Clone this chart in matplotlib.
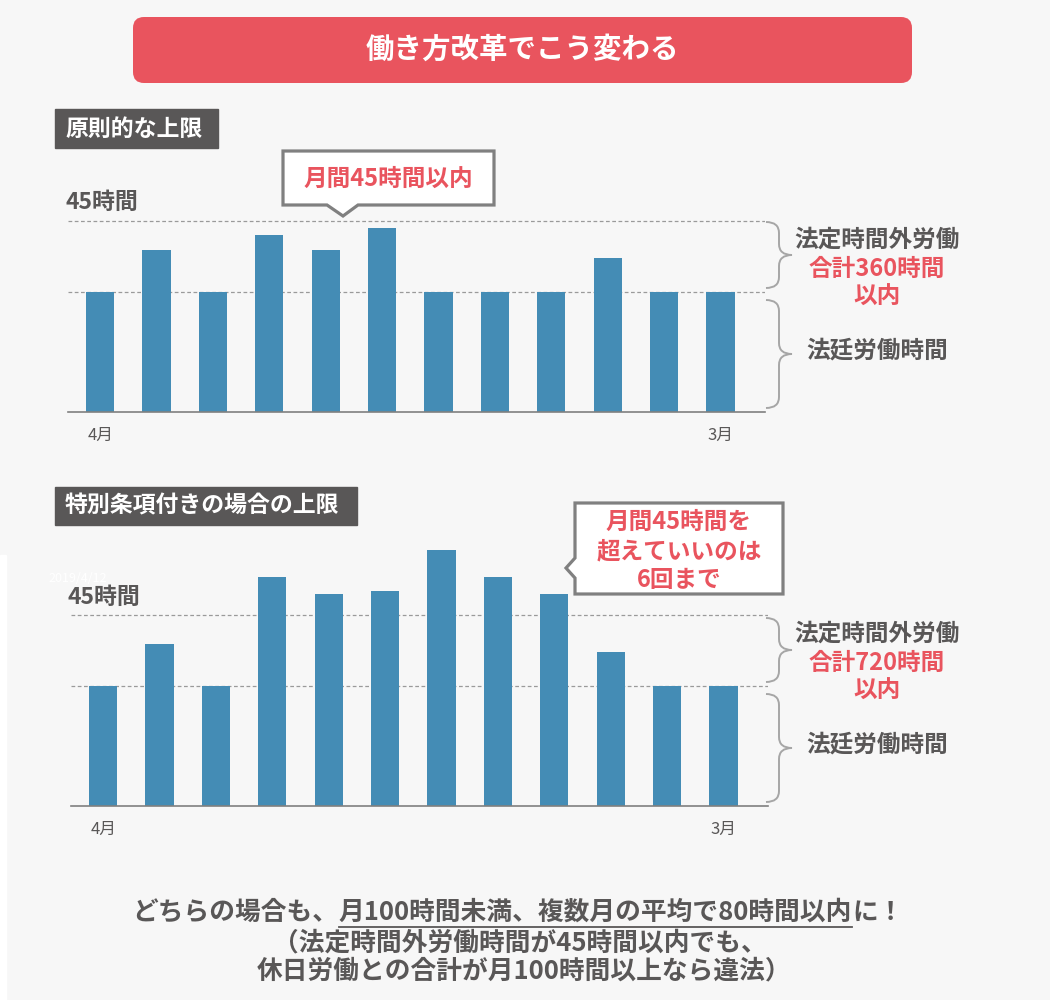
import matplotlib
matplotlib.use("Agg")
import matplotlib.pyplot as plt
from matplotlib.patches import FancyBboxPatch, Polygon, Rectangle, PathPatch
from matplotlib.path import Path

plt.rcParams['font.family'] = ['Noto Sans CJK JP', 'DejaVu Sans']

# donnees (hauteurs schematiques des barres, 12 mois d'avril a mars)
mois = list(range(12))
positions_etiquettes = [0, 11]
etiquettes_mois = ['4月', '3月']
niveau_legal = 120      # temps de travail legal
niveau_45h = 191        # limite 45 heures / mois
heures_principe = [120, 162, 120, 177, 162, 184, 120, 120, 120, 154, 120, 120]
heures_special = [120, 162, 120, 229, 212, 215, 256, 229, 212, 154, 120, 120]

FOND = '#f7f7f7'
BLEU = '#448cb5'
ROUGE = '#e9545e'
GRIS = '#595757'
GRIS_BORD = '#808080'

fig = plt.figure(figsize=(10.5, 10), dpi=100, facecolor=FOND)


def tracer_barres(gauche, bas, valeurs, hauteur):
    # gauche / bas / hauteur en pixels (bas compte depuis le haut de l'image)
    ax = fig.add_axes([gauche / 1050, 1 - bas / 1000, 697 / 1050, hauteur / 1000])
    ax.patch.set_alpha(0)
    ax.bar(mois, valeurs, width=0.5, color=BLEU, zorder=2)
    ax.axhline(niveau_legal, ls=(0, (3, 2)), color='#9a9a9a', lw=0.9, zorder=1)
    ax.axhline(niveau_45h, ls=(0, (3, 2)), color='#9a9a9a', lw=0.9, zorder=1)
    ax.set_xlim(-0.57, 11.79)
    ax.set_ylim(0, hauteur)
    for cote in ['top', 'right', 'left']:
        ax.spines[cote].set_visible(False)
    ax.spines['bottom'].set_color(GRIS_BORD)
    ax.spines['bottom'].set_linewidth(1.2)
    ax.set_yticks([])
    ax.set_xticks(positions_etiquettes, etiquettes_mois)
    ax.tick_params(axis='x', length=0, pad=11, labelsize=12, labelcolor=GRIS)
    return ax


def accolade(ax, haut, bas, x0=766, xv=779, xt=792, r=11):
    milieu = (haut + bas) / 2
    pts = [(x0, haut), (xv, haut), (xv, haut + r), (xv, milieu - r),
           (xv, milieu), (xt, milieu), (xv, milieu), (xv, milieu + r),
           (xv, bas - r), (xv, bas), (x0, bas)]
    codes = [Path.MOVETO, Path.CURVE3, Path.CURVE3, Path.LINETO,
             Path.CURVE3, Path.CURVE3, Path.CURVE3, Path.CURVE3,
             Path.LINETO, Path.CURVE3, Path.CURVE3]
    ax.add_patch(PathPatch(Path(pts, codes), fill=False, ec='#a6a6a6', lw=1.4))


tracer_barres(68, 412, heures_principe, 212)
tracer_barres(71, 806, heures_special, 270)

# calque en pixels pour les annotations
ov = fig.add_axes([0, 0, 1, 1])
ov.set_xlim(0, 1050)
ov.set_ylim(1000, 0)
ov.axis('off')
ov.patch.set_alpha(0)

ov.add_patch(Rectangle((0, 555), 6, 445, color='white', zorder=0))

# titre
ov.add_patch(FancyBboxPatch((133, 17), 779, 66, boxstyle='round,pad=0,rounding_size=11',
                            fc=ROUGE, ec='none'))
ov.text(522, 50, '働き方改革でこう変わる', color='white', fontsize=20.5, fontweight='bold',
        ha='center', va='center')

# etiquettes de section
ov.add_patch(Rectangle((55, 109), 163, 39, color=GRIS))
ov.text(65, 129, '原則的な上限', color='white', fontsize=16.5, fontweight='bold', va='center')
ov.add_patch(Rectangle((55, 487), 302, 38, color=GRIS))
ov.text(65, 506, '特別条項付きの場合の上限', color='white', fontsize=16.5, fontweight='bold',
        va='center')

# 45 heures
ov.text(48, 578, '2019/4/12', color='white', fontsize=9, va='center', zorder=1)
ov.text(65, 202, '45時間', color=GRIS, fontsize=16.5, fontweight='bold', va='center')
ov.text(68, 597, '45時間', color=GRIS, fontsize=16.5, fontweight='bold', va='center', zorder=2)

# bulle 1
ov.add_patch(Polygon([(283, 151), (494, 151), (494, 205), (358, 205), (343, 216),
                      (327, 205), (283, 205)], closed=True, fc='white', ec=GRIS_BORD, lw=2.3))
ov.text(388, 179, '月間45時間以内', color=ROUGE, fontsize=17, fontweight='bold',
        ha='center', va='center')

# bulle 2
ov.add_patch(Polygon([(575, 503), (783, 503), (783, 594), (575, 594), (575, 578),
                      (566, 568), (575, 558)], closed=True, fc='white', ec=GRIS_BORD, lw=2.3))
for y, ligne in zip([522, 551, 580], ['月間45時間を', '超えていいのは', '6回まで']):
    ov.text(679, y, ligne, color=ROUGE, fontsize=17, fontweight='bold', ha='center', va='center')

# accolades et textes a droite
accolade(ov, 222, 288)
accolade(ov, 300, 408)
accolade(ov, 618, 682)
accolade(ov, 694, 802)

for dy, total in [(0, '合計360時間'), (394, '合計720時間')]:
    ov.text(877, 240 + dy, '法定時間外労働', color=GRIS, fontsize=17, fontweight='bold',
            ha='center', va='center')
    ov.text(877, 269 + dy, total, color=ROUGE, fontsize=17, fontweight='bold',
            ha='center', va='center')
    ov.text(877, 297 + dy, '以内', color=ROUGE, fontsize=17, fontweight='bold',
            ha='center', va='center')
    ov.text(877, 351 + dy, '法廷労働時間', color=GRIS, fontsize=17, fontweight='bold',
            ha='center', va='center')

# texte du bas avec soulignement
morceaux = ['どちらの場合も、', '月100時間未満、複数月の平均で80時間以内', 'に！']
textes = [ov.text(0, 912, m, color=GRIS, fontsize=18.5, fontweight='bold', va='center')
          for m in morceaux]
fig.canvas.draw()
rendu = fig.canvas.get_renderer()
largeurs = [t.get_window_extent(rendu).width for t in textes]
x = 518 - sum(largeurs) / 2
debuts = []
for t, w in zip(textes, largeurs):
    t.set_x(x)
    debuts.append(x)
    x += w
ov.plot([debuts[1], debuts[1] + largeurs[1]], [927, 927], color=GRIS, lw=1.3)

ov.text(520, 943, '（法定時間外労働時間が45時間以内でも、', color=GRIS, fontsize=18.5,
        fontweight='bold', ha='center', va='center')
ov.text(524, 971, '休日労働との合計が月100時間以上なら違法）', color=GRIS, fontsize=18.5,
        fontweight='bold', ha='center', va='center')

fig.savefig('out.png', dpi=100, facecolor=FOND)
